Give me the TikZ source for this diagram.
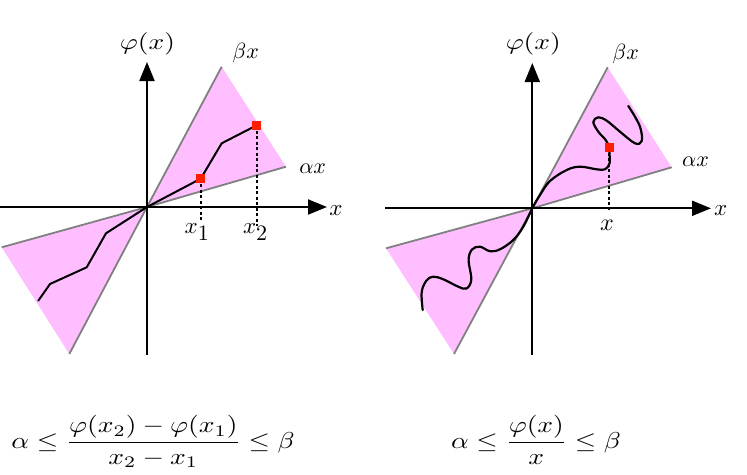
\documentclass[tikz,border=0pt]{standalone}
\usepackage{amsmath}
\usepackage{graphicx}
\usetikzlibrary{arrows.meta}
\definecolor{wedge}{RGB}{255,190,255}
\definecolor{edgegray}{RGB}{128,128,128}
\definecolor{markred}{RGB}{255,30,0}
\begin{document}
\begin{tikzpicture}[x=1pt,y=-1pt,
  axisline/.style={line width=2pt,-{Triangle[length=19pt,width=15pt]}},
  boundline/.style={draw=edgegray,line width=1.8pt},
  wedgefill/.style={fill=wedge,draw=none},
  curveline/.style={line width=2pt,line join=round,line cap=round},
  dropline/.style={line width=1.9pt,dash pattern=on 3pt off 2.5pt},
  redsq/.style={fill=markred,draw=none,minimum size=9pt,inner sep=0pt,outer sep=0pt},
  lab/.style={inner sep=0pt,anchor=base}]
\useasboundingbox (0,0) rectangle (747,474);

% ---------------- left panel ----------------
\coordinate (O1) at (147,207);
\coordinate (B1t) at (221.7,66.7);
\coordinate (B1b) at (69.3,354);
\coordinate (A1r) at (286,166.7);
\coordinate (A1l) at (1.7,247.3);
\fill[wedgefill] (O1) -- (B1t) -- (A1r) -- cycle;
\fill[wedgefill] (O1) -- (B1b) -- (A1l) -- cycle;
\draw[boundline] (B1b) -- (O1) -- (B1t);
\draw[boundline] (A1l) -- (O1) -- (A1r);
\coordinate (X1s) at (0,207);
\coordinate (X1e) at (327,207);
\coordinate (Y1s) at (147,355);
\coordinate (Y1e) at (147,62);
\draw[axisline] (X1s) -- (X1e);
\draw[axisline] (Y1s) -- (Y1e);
\coordinate (P1) at (200.7,178.7);
\coordinate (P2) at (256.7,125.3);
\coordinate (D1) at (200.7,222);
\coordinate (D2) at (256.7,226);
\draw[dropline] (P1) -- (D1);
\draw[dropline] (P2) -- (D2);
\draw[curveline] (38.3,300.7) -- (50,284) -- (86.7,267.3) -- (106,233.3) -- (O1) -- (P1) -- (221.7,143.3) -- (P2);
\node[redsq] (q1) at (P1) {};
\node[redsq] (q2) at (P2) {};
\node[lab] (phi1) at (147.5,49) {\scalebox{2.75}[2.25]{$\varphi(x)$}};
\node[lab] (beta1) at (245.8,58) {\scalebox{2.2}{$\beta x$}};
\node[lab] (alpha1) at (312.7,173) {\scalebox{2.2}{$\alpha x$}};
\node[lab] (xax1) at (336,215) {\scalebox{2.3}{$x$}};
\node[lab,anchor=base west] (x1lab) at (184.5,233.3) {\scalebox{2.3}{$x$}\raisebox{-7pt}{\scalebox{2.2}{1}}};
\node[lab,anchor=base west] (x2lab) at (242.8,233.8) {\scalebox{2.3}{$x$}\raisebox{-7pt}{\scalebox{2.2}{2}}};

% ---------------- right panel ----------------
\coordinate (O2) at (532.3,208.3);
\coordinate (B2t) at (607.7,67.3);
\coordinate (B2b) at (454,354);
\coordinate (A2r) at (671.7,167.3);
\coordinate (A2l) at (386,248.3);
\fill[wedgefill] (O2) -- (B2t) -- (A2r) -- cycle;
\fill[wedgefill] (O2) -- (B2b) -- (A2l) -- cycle;
\draw[boundline] (B2b) -- (O2) -- (B2t);
\draw[boundline] (A2l) -- (O2) -- (A2r);
\coordinate (X2s) at (385,208.3);
\coordinate (X2e) at (711,208.3);
\coordinate (Y2s) at (532.3,355);
\coordinate (Y2e) at (532.3,63);
\draw[axisline] (X2s) -- (X2e);
\draw[axisline] (Y2s) -- (Y2e);
\coordinate (P3) at (609.3,147.3);
\coordinate (D3) at (609.3,210);
\draw[dropline] (P3) -- (D3);
\draw[curveline,line width=2.2pt] plot[smooth,tension=0.6] coordinates {
  (422.7,310) (421.7,292) (426.5,280.5) (433.3,276.7) (443.3,279.3)
  (458.3,286.7) (466.5,288.5) (471.3,279.5) (468.6,260) (472,249.5)
  (480,246.7) (490,251.2) (500,249.3) (513.3,240) (523.3,226.7)
  (532.3,208.3) (540,195) (550,181) (566.7,170) (580,166.7)
  (596.7,169.3) (605,169.3) (609.5,163.5) (609.5,154) (608.8,146.5)
  (605.5,139.8) (598.3,131.7) (593.3,122) (598.3,117.3) (606.7,120.7)
  (620,131.7) (635,143.3) (641.7,141) (640.5,128.3) (635,116.7) (628.3,106)};
\node[redsq] (q3) at (P3) {};
\node[lab] (phi2) at (533.3,49.5) {\scalebox{2.75}[2.25]{$\varphi(x)$}};
\node[lab] (beta2) at (625.8,59) {\scalebox{2.2}{$\beta x$}};
\node[lab] (alpha2) at (695.5,166.5) {\scalebox{2.2}{$\alpha x$}};
\node[lab] (xax2) at (720.8,215) {\scalebox{2.3}{$x$}};
\node[lab] (xlab) at (607,230.5) {\scalebox{2.4}{$x$}};

% ---------------- formulas ----------------
\node[lab] (f1) at (153,448.5) {\scalebox{2.75}[2.3]{$\displaystyle \alpha\le\frac{\varphi(x_2)-\varphi(x_1)}{x_2-x_1}\le\beta$}};
\node[lab] (f2) at (536,448.5) {\scalebox{2.75}[2.3]{$\displaystyle \alpha\le\frac{\varphi(x)}{x}\le\beta$}};
\end{tikzpicture}
\end{document}
